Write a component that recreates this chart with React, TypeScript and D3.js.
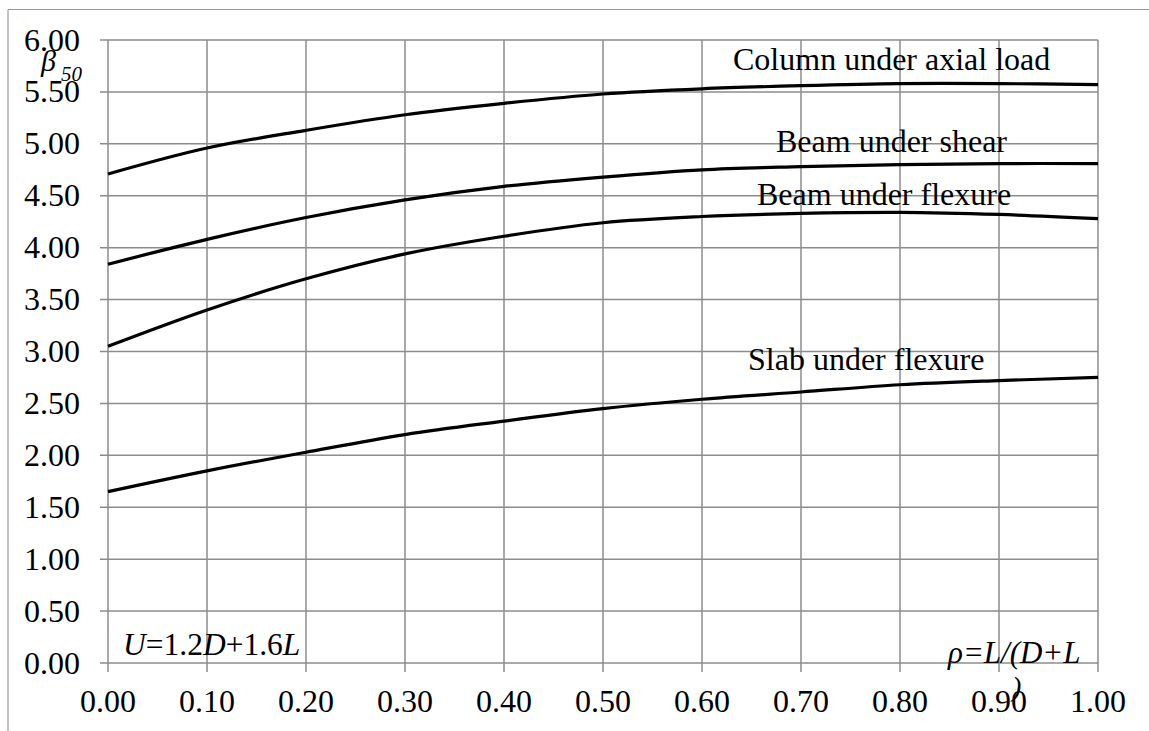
import React from "react";
import * as d3 from "d3";

// rho = L/(D+L)
const rho = [0, 0.1, 0.2, 0.3, 0.4, 0.5, 0.6, 0.7, 0.8, 0.9, 1.0];

const columnAxial = [4.71, 4.96, 5.13, 5.28, 5.39, 5.48, 5.53, 5.56, 5.58, 5.58, 5.57];
const beamShear = [3.84, 4.08, 4.29, 4.46, 4.59, 4.68, 4.75, 4.78, 4.8, 4.81, 4.81];
const beamFlexure = [3.05, 3.4, 3.7, 3.94, 4.11, 4.24, 4.3, 4.33, 4.34, 4.32, 4.28];
const slabFlexure = [1.65, 1.85, 2.03, 2.2, 2.33, 2.45, 2.54, 2.61, 2.68, 2.72, 2.75];

const seriesNames = ["Column under axial load", "Beam under shear", "Beam under flexure", "Slab under flexure"];
const xTicks = [0, 0.1, 0.2, 0.3, 0.4, 0.5, 0.6, 0.7, 0.8, 0.9, 1.0];
const yTicks = [0, 0.5, 1, 1.5, 2, 2.5, 3, 3.5, 4, 4.5, 5, 5.5, 6];

const W = 1149;
const H = 731;
const font = "'Liberation Serif', 'Times New Roman', serif";
const gridColor = "#8c8c8c";

export default function App() {
  const x = d3.scaleLinear().domain([0, 1]).range([108, 1098]);
  const y = d3.scaleLinear().domain([0, 6]).range([663, 40]);

  const line = d3
    .line<number>()
    .x((d, i) => x(rho[i]))
    .y(d => y(d))
    .curve(d3.curveCatmullRom.alpha(0.5));

  const series = [columnAxial, beamShear, beamFlexure, slabFlexure];
  // label anchor (start x, baseline y) for each curve name
  const labelPos = [
    [733, 70],
    [776, 152],
    [757, 205],
    [748, 370]
  ];

  return (
    <svg
      width={W}
      height={H}
      style={{ position: "absolute", left: 0, top: 0, background: "#fff" }}
      fontFamily={font}
    >
      {/* outer frame */}
      <line x1={8} x2={W} y1={9.5} y2={9.5} stroke="#999" strokeWidth={1.2} />
      <line x1={8} x2={8} y1={9.5} y2={H} stroke="#999" strokeWidth={1.2} />

      {/* grid */}
      {yTicks.map(t => (
        <line key={"gy" + t} x1={100} x2={x(1)} y1={y(t)} y2={y(t)} stroke={gridColor} strokeWidth={1.5} />
      ))}
      {xTicks.map(t => (
        <line key={"gx" + t} x1={x(t)} x2={x(t)} y1={y(6)} y2={y(0) + 9} stroke={gridColor} strokeWidth={1.5} />
      ))}

      {/* tick labels */}
      {yTicks.map(t => (
        <text key={"ly" + t} x={80} y={y(t) + 10.5} textAnchor="end" fontSize={32}>
          {d3.format(".2f")(t)}
        </text>
      ))}
      {xTicks.map(t => (
        <text key={"lx" + t} x={x(t)} y={712} textAnchor="middle" fontSize={32}>
          {d3.format(".2f")(t)}
        </text>
      ))}

      {/* curves */}
      {series.map((s, i) => (
        <path key={"s" + i} d={line(s) || ""} fill="none" stroke="#000" strokeWidth={3.2} />
      ))}

      {seriesNames.map((n, i) => (
        <text key={"n" + i} x={labelPos[i][0]} y={labelPos[i][1]} fontSize={32}>
          {n}
        </text>
      ))}

      {/* axis titles */}
      <text x={41} y={71} fontSize={30} fontStyle="italic">β</text>
      <text x={61} y={81} fontSize={21} fontStyle="italic">50</text>

      <text x={123} y={655} fontSize={31.5}>
        <tspan fontStyle="italic">U</tspan>=1.2<tspan fontStyle="italic">D</tspan>+1.6<tspan fontStyle="italic">L</tspan>
      </text>

      <text x={948} y={663} fontSize={31} fontStyle="italic">
        ρ=L/(D+L
      </text>
      <text x={1012} y={696} fontSize={28} fontStyle="italic">)</text>
    </svg>
  );
}
